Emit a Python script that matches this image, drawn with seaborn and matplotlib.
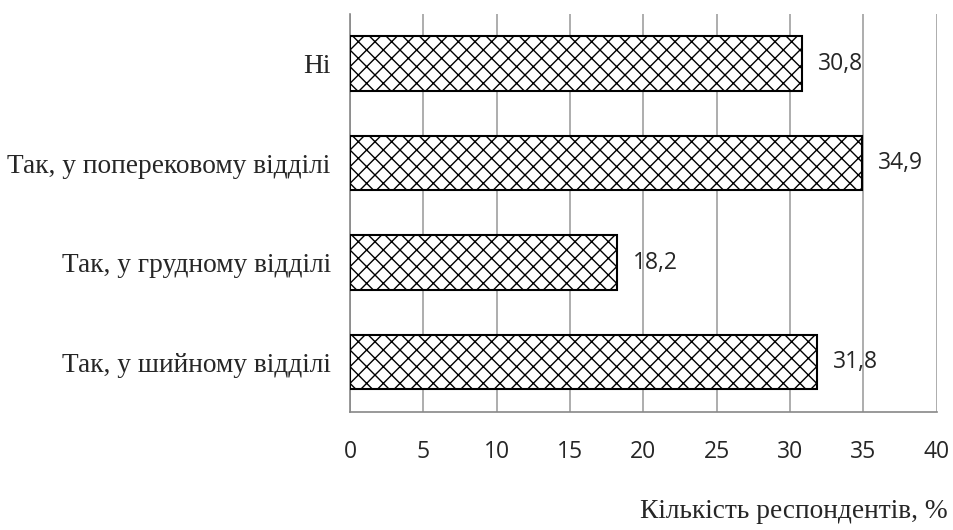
import matplotlib
matplotlib.use("Agg")
import matplotlib.pyplot as plt
import seaborn as sns
import pandas as pd

categories = ["Ні", "Так, у поперековому відділі", "Так, у грудному відділі", "Так, у шийному відділі"]
values = [30.8, 34.9, 18.2, 31.8]
x_ticks = [0, 5, 10, 15, 20, 25, 30, 35, 40]

sns.set_style("white")
plt.rcParams["hatch.linewidth"] = 1.0

df = pd.DataFrame({"category": categories, "value": values})

fig = plt.figure(figsize=(9.54, 5.3), dpi=100)
ax = fig.add_axes([0.367, 0.223, 0.615, 0.751])

sns.barplot(data=df, x="value", y="category", orient="h", ax=ax,
            color="white", edgecolor="black", linewidth=1.5, width=0.55,
            hatch="xx", zorder=3)

ax.set_xlim(0, 40)
ax.set_xticks(x_ticks)
ax.set_xticklabels([str(t) for t in x_ticks], fontfamily="Open Sans", fontsize=16.5)
ax.set_ylim(3.5, -0.5)
ax.set_yticks(range(len(categories)))
ax.set_yticklabels(categories, fontfamily="Liberation Serif", fontsize=19.7)
ax.set_yticks([-0.5, 0.5, 1.5, 2.5, 3.5], minor=True)
ax.tick_params(axis="y", which="major", length=0, pad=14)
ax.tick_params(axis="y", which="minor", length=6, color="#888888", width=1.2, direction="out")
ax.tick_params(axis="x", length=6, color="#888888", width=1.2, direction="out", pad=14)
ax.xaxis.grid(True, color="#a0a0a0", linewidth=1.2, zorder=0)
ax.set_axisbelow(True)
ax.set_xlabel("")
ax.set_ylabel("")

for s in ["top", "right"]:
    ax.spines[s].set_visible(False)
for s in ["left", "bottom"]:
    ax.spines[s].set_color("#888888")
    ax.spines[s].set_linewidth(1.2)

for i, v in enumerate(values):
    ax.text(v + 1.1, i, f"{v:.1f}".replace(".", ","), va="center", ha="left",
            fontfamily="Open Sans", fontsize=16.5)

fig.text(0.993, 1 - 512 / 530, "Кількість респондентів, %", ha="right", va="center",
         fontfamily="Liberation Serif", fontsize=19.7)

fig.savefig("out.png", dpi=100)
